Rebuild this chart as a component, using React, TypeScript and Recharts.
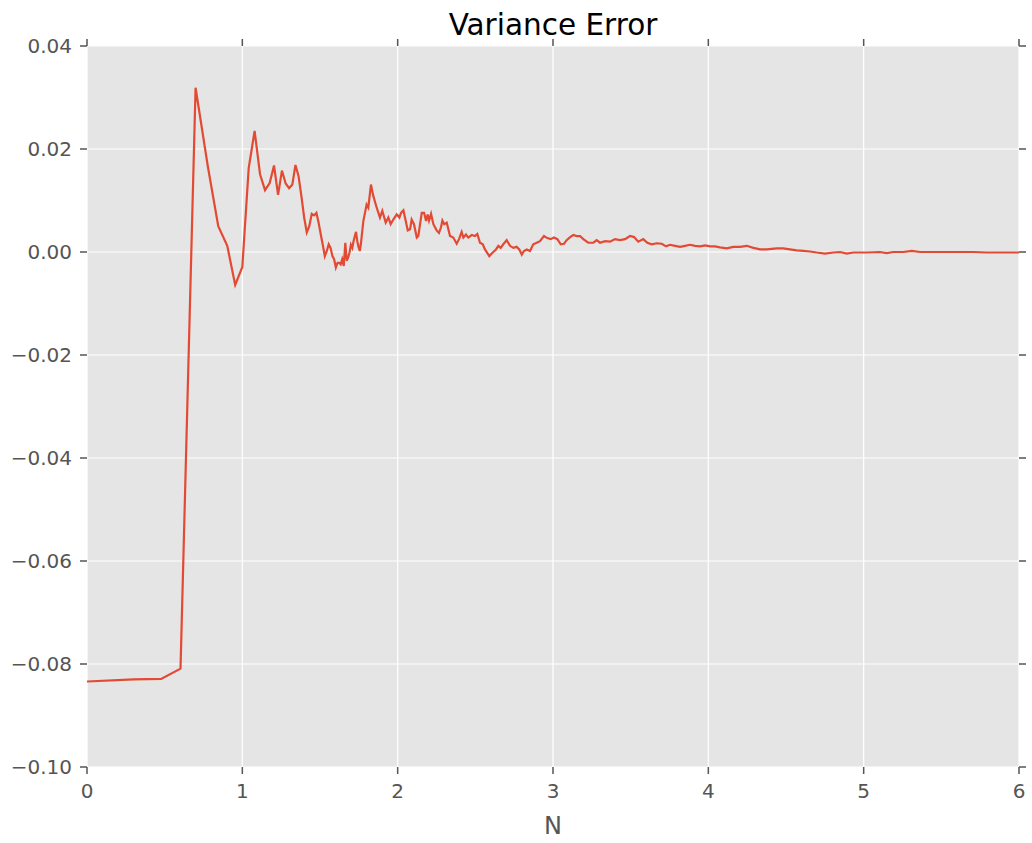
import { LineChart, Line, XAxis, YAxis, CartesianGrid } from 'recharts';

const earlyN = [
  0.0, 0.301, 0.477, 0.602, 0.699, 0.778, 0.845, 0.903, 0.954, 1.0,
  1.041, 1.079, 1.114, 1.146, 1.176, 1.204, 1.23, 1.255, 1.279, 1.301,
  1.322, 1.342, 1.362, 1.38, 1.398, 1.415, 1.431, 1.447, 1.462, 1.477,
  1.491, 1.505, 1.519, 1.531, 1.544, 1.556, 1.568, 1.58, 1.591, 1.602,
  1.613, 1.623, 1.633, 1.643, 1.653, 1.663, 1.672, 1.681, 1.69, 1.699,
  1.708, 1.716, 1.724, 1.732, 1.74, 1.748, 1.756, 1.763,
];
const earlyErr = [
  -0.0834, -0.083, -0.0829, -0.0809, 0.0319, 0.0166, 0.005, 0.0012, -0.0064, -0.0029,
  0.0163, 0.0235, 0.0151, 0.012, 0.0134, 0.0168, 0.0111, 0.0158, 0.0133, 0.0124,
  0.0131, 0.0169, 0.0147, 0.0109, 0.0067, 0.0038, 0.005, 0.0074, 0.0071, 0.0076,
  0.0057, 0.0034, 0.0012, -0.0008, 0.0002, 0.0015, 0.0008, -0.0008, -0.0014, -0.003,
  -0.0021, -0.0021, -0.0024, -0.0014, -0.0027, 0.0018, -0.0017, -0.0011, -0.0001, 0.0014,
  0.0008, 0.0021, 0.0031, 0.0039, 0.0021, 0.001, 0.0002, 0.0015,
];

const midN = [
  1.779, 1.8, 1.811, 1.828, 1.843, 1.865, 1.886, 1.901, 1.923, 1.94,
  1.955, 1.972, 1.994, 2.011, 2.022, 2.037, 2.052, 2.065, 2.08, 2.09,
  2.105, 2.123, 2.133, 2.155, 2.17, 2.183, 2.193, 2.202, 2.215, 2.23,
  2.251, 2.266, 2.279, 2.288, 2.3, 2.316, 2.337, 2.358, 2.38, 2.395,
  2.412, 2.423, 2.44, 2.455, 2.477, 2.498, 2.513, 2.53, 2.548, 2.562,
  2.59, 2.612, 2.633, 2.648, 2.663, 2.68, 2.702, 2.723, 2.745, 2.766,
  2.783, 2.799, 2.813, 2.831, 2.852, 2.873, 2.895, 2.916, 2.942, 2.963,
  2.985,
];
const midErr = [
  0.006, 0.0092, 0.0086, 0.0131, 0.0109, 0.0086, 0.0067, 0.008, 0.0057, 0.0067,
  0.0054, 0.0063, 0.0073, 0.0067, 0.0076, 0.0081, 0.006, 0.0042, 0.0044, 0.0063,
  0.0054, 0.0028, 0.0031, 0.0076, 0.0076, 0.006, 0.0073, 0.0061, 0.0074, 0.0054,
  0.0042, 0.0037, 0.0048, 0.0061, 0.0054, 0.0057, 0.0031, 0.0028, 0.0016, 0.0025,
  0.0039, 0.0028, 0.0034, 0.0028, 0.0033, 0.0031, 0.0035, 0.0018, 0.0015, 0.0005,
  -0.0008, -0.0001, 0.0005, 0.0012, 0.0008, 0.0015, 0.0023, 0.0012, 0.0008, 0.001,
  0.0005, -0.0005, 0.0002, 0.0005, 0.0002, 0.0015, 0.0018, 0.0021, 0.0031, 0.0027,
  0.0025,
];

const lateN = [
  3.006, 3.028, 3.05, 3.071, 3.088, 3.11, 3.131, 3.153, 3.174, 3.195,
  3.227, 3.26, 3.281, 3.303, 3.335, 3.367, 3.399, 3.431, 3.464, 3.496,
  3.522, 3.549, 3.581, 3.607, 3.635, 3.668, 3.7, 3.728, 3.753, 3.786,
  3.818, 3.85, 3.882, 3.914, 3.947, 3.979, 4.011, 4.043, 4.075, 4.118,
  4.161, 4.204, 4.247, 4.29, 4.333, 4.376, 4.44, 4.483, 4.526, 4.569,
  4.612, 4.655, 4.698, 4.751, 4.805, 4.848, 4.891, 4.933, 5.02, 5.105,
  5.148, 5.191, 5.256, 5.309, 5.363, 5.449, 5.535, 5.62, 5.706, 5.792,
  5.878, 6.0,
];
const lateErr = [
  0.0028, 0.0025, 0.0015, 0.0016, 0.0023, 0.0029, 0.0033, 0.0031, 0.0031, 0.0025,
  0.0018, 0.0018, 0.0023, 0.0018, 0.0021, 0.002, 0.0025, 0.0023, 0.0025, 0.0031,
  0.0029, 0.002, 0.0025, 0.0018, 0.0015, 0.0017, 0.0016, 0.0011, 0.0014, 0.0012,
  0.001, 0.0012, 0.0014, 0.0012, 0.0011, 0.0013, 0.0011, 0.0011, 0.0009, 0.0007,
  0.001, 0.001, 0.0012, 0.0008, 0.0005, 0.0005, 0.0007, 0.0007, 0.0005, 0.0003,
  0.0002, 0.0001, -0.0001, -0.0003, -0.0001, 0.0, -0.0003, -0.0001, -0.0001, 0.0,
  -0.0002, 0.0, 0.0, 0.0002, 0.0, 0.0, 0.0, 0.0, 0.0, -0.0001,
  -0.0001, -0.0001,
];

const xTicks = [0, 1, 2, 3, 4, 5, 6];
const yTicks = [-0.1, -0.08, -0.06, -0.04, -0.02, 0, 0.02, 0.04];

const allN = [...earlyN, ...midN, ...lateN];
const allErr = [...earlyErr, ...midErr, ...lateErr];
const data = allN.map((n, i) => ({ n, err: allErr[i] }));

const tickStyle = { fontFamily: 'DejaVu Sans', fontSize: 20, fill: '#555555' };
const tickLine = { stroke: '#555555', strokeWidth: 1.5 };

const fmtY = (v: number) => v.toFixed(2).replace('-', '\u2212');

export default function App() {
  return (
    <div style={{ position: 'absolute', left: 0, top: 0, width: 1032, height: 843, background: '#fff' }}>
      <LineChart
        width={1032}
        height={843}
        data={data}
        margin={{ top: 45, right: 12, bottom: 46, left: 7 }}
      >
        <CartesianGrid
          fill="#E5E5E5"
          stroke="#ffffff"
          strokeWidth={1.2}
          horizontalValues={yTicks}
          verticalValues={xTicks}
        />
        <XAxis
          dataKey="n"
          type="number"
          domain={[0, 6]}
          ticks={xTicks}
          allowDataOverflow
          axisLine={false}
          tickLine={tickLine}
          tickSize={7}
          tickMargin={10}
          tick={tickStyle}
          height={30}
        />
        <XAxis
          xAxisId="top"
          orientation="top"
          dataKey="n"
          type="number"
          domain={[0, 6]}
          ticks={xTicks}
          allowDataOverflow
          axisLine={false}
          tickLine={tickLine}
          tickSize={7}
          tickFormatter={() => ''}
          height={1}
        />
        <YAxis
          type="number"
          domain={[-0.1, 0.04]}
          ticks={yTicks}
          allowDataOverflow
          axisLine={false}
          tickLine={tickLine}
          tickSize={7}
          tickMargin={8}
          tick={tickStyle}
          tickFormatter={fmtY}
          width={80}
        />
        <YAxis
          yAxisId="right"
          orientation="right"
          type="number"
          domain={[-0.1, 0.04]}
          ticks={yTicks}
          allowDataOverflow
          axisLine={false}
          tickLine={tickLine}
          tickSize={7}
          tickFormatter={() => ''}
          width={1}
        />
        <Line
          type="linear"
          dataKey="err"
          stroke="#E24A33"
          strokeWidth={2.2}
          dot={false}
          isAnimationActive={false}
        />
      </LineChart>
      <svg
        width={1032}
        height={843}
        style={{ position: 'absolute', left: 0, top: 0, pointerEvents: 'none' }}
      >
        <text x={553} y={35} textAnchor="middle" fontFamily="DejaVu Sans" fontSize={29.5} fill="#000">
          Variance Error
        </text>
        <text x={553} y={834} textAnchor="middle" fontFamily="DejaVu Sans" fontSize={24} fill="#555555">
          N
        </text>
      </svg>
    </div>
  );
}
